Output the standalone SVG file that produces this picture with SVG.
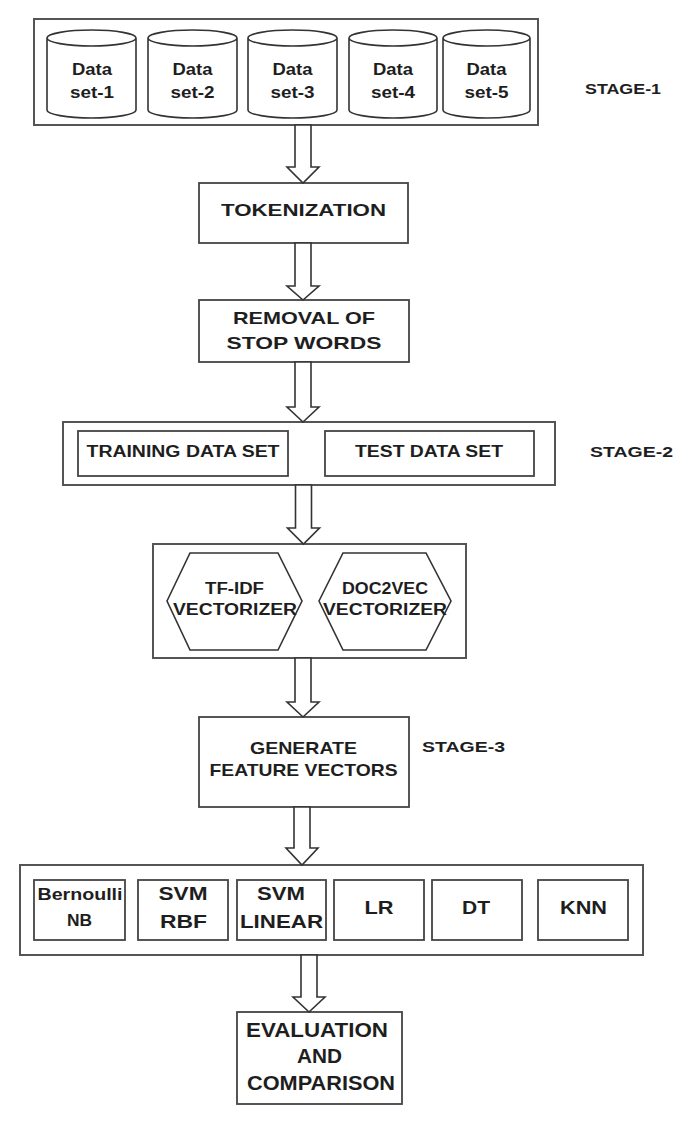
<svg xmlns="http://www.w3.org/2000/svg" width="697" height="1125" viewBox="0 0 697 1125">
<style>
.bg{fill:#ffffff}
.outer{fill:#ffffff;stroke:#555;stroke-width:2}
.box{fill:#ffffff;stroke:#444;stroke-width:1.8}
.cyl{fill:#ffffff;stroke:#333;stroke-width:1.6}
.arrow{fill:#ffffff;stroke:#333;stroke-width:1.6;stroke-linejoin:miter}
text{font-family:"Liberation Sans",Arial,sans-serif;font-weight:bold;fill:#1e1e1e;text-anchor:middle}
.t17{font-size:17px}
.t15{font-size:15px}
.t16{font-size:16px}
.t19{font-size:19px}
.t21{font-size:20px}
</style>
<rect class="bg" x="0" y="0" width="697" height="1125"/>

<g id="stage1">
  <rect class="outer" x="34" y="19" width="504" height="106"/>
  <g id="ds1">
    <path class="cyl" d="M47,38 L47,110 A44.5,8 0 0 0 136,110 L136,38 A44.5,8 0 0 0 47,38 A44.5,8 0 0 0 136,38"/>
    <text class="t17" x="92" y="75" textLength="40" lengthAdjust="spacingAndGlyphs">Data</text>
    <text class="t17" x="92" y="98" textLength="44" lengthAdjust="spacingAndGlyphs">set-1</text>
  </g>
  <g id="ds2">
    <path class="cyl" d="M148,38 L148,110 A44.5,8 0 0 0 237,110 L237,38 A44.5,8 0 0 0 148,38 A44.5,8 0 0 0 237,38"/>
    <text class="t17" x="192.5" y="75" textLength="40" lengthAdjust="spacingAndGlyphs">Data</text>
    <text class="t17" x="192.5" y="98" textLength="44" lengthAdjust="spacingAndGlyphs">set-2</text>
  </g>
  <g id="ds3">
    <path class="cyl" d="M248,38 L248,110 A44.5,8 0 0 0 337,110 L337,38 A44.5,8 0 0 0 248,38 A44.5,8 0 0 0 337,38"/>
    <text class="t17" x="292.5" y="75" textLength="40" lengthAdjust="spacingAndGlyphs">Data</text>
    <text class="t17" x="292.5" y="98" textLength="44" lengthAdjust="spacingAndGlyphs">set-3</text>
  </g>
  <g id="ds4">
    <path class="cyl" d="M349,38 L349,110 A44,8 0 0 0 437,110 L437,38 A44,8 0 0 0 349,38 A44,8 0 0 0 437,38"/>
    <text class="t17" x="393" y="75" textLength="40" lengthAdjust="spacingAndGlyphs">Data</text>
    <text class="t17" x="393" y="98" textLength="44" lengthAdjust="spacingAndGlyphs">set-4</text>
  </g>
  <g id="ds5">
    <path class="cyl" d="M443,38 L443,110 A43.5,8 0 0 0 530,110 L530,38 A43.5,8 0 0 0 443,38 A43.5,8 0 0 0 530,38"/>
    <text class="t17" x="486.5" y="75" textLength="40" lengthAdjust="spacingAndGlyphs">Data</text>
    <text class="t17" x="486.5" y="98" textLength="44" lengthAdjust="spacingAndGlyphs">set-5</text>
  </g>
  <text id="stage1-label" class="t15" x="623" y="94" textLength="76" lengthAdjust="spacingAndGlyphs">STAGE-1</text>
</g>

<g id="tokenization">
  <rect class="box" x="199" y="183" width="209" height="60"/>
  <text class="t17" x="303.5" y="216" textLength="165" lengthAdjust="spacingAndGlyphs">TOKENIZATION</text>
</g>

<g id="removal">
  <rect class="box" x="199" y="300" width="210" height="62"/>
  <text class="t17" x="304" y="324" textLength="142" lengthAdjust="spacingAndGlyphs">REMOVAL OF</text>
  <text class="t17" x="304" y="349" textLength="155" lengthAdjust="spacingAndGlyphs">STOP WORDS</text>
</g>

<g id="stage2">
  <rect class="outer" x="63" y="422" width="492" height="63"/>
  <g id="training">
    <rect class="box" x="78" y="431" width="210" height="45"/>
    <text class="t16" x="183" y="457" textLength="193" lengthAdjust="spacingAndGlyphs">TRAINING DATA SET</text>
  </g>
  <g id="test">
    <rect class="box" x="325" y="431" width="209" height="45"/>
    <text class="t16" x="429" y="457" textLength="148" lengthAdjust="spacingAndGlyphs">TEST DATA SET</text>
  </g>
  <text id="stage2-label" class="t15" x="631.5" y="457" textLength="83" lengthAdjust="spacingAndGlyphs">STAGE-2</text>
</g>

<g id="vectorizers">
  <rect class="outer" x="153" y="544" width="313" height="114"/>
  <g id="tfidf">
    <polygon class="cyl" points="167,601 190,553 278,553 302,601 278,650 190,650"/>
    <text class="t16" x="234.5" y="594" textLength="59" lengthAdjust="spacingAndGlyphs">TF-IDF</text>
    <text class="t16" x="235" y="615" textLength="124" lengthAdjust="spacingAndGlyphs">VECTORIZER</text>
  </g>
  <g id="doc2vec">
    <polygon class="cyl" points="319,601 343,553 426,553 451,601 426,650 343,650"/>
    <text class="t16" x="385" y="594" textLength="86" lengthAdjust="spacingAndGlyphs">DOC2VEC</text>
    <text class="t16" x="385" y="615" textLength="124" lengthAdjust="spacingAndGlyphs">VECTORIZER</text>
  </g>
</g>

<g id="generate">
  <rect class="box" x="199" y="717" width="210" height="90"/>
  <text class="t17" x="303.5" y="754" textLength="107" lengthAdjust="spacingAndGlyphs">GENERATE</text>
  <text class="t17" x="303.5" y="776" textLength="188" lengthAdjust="spacingAndGlyphs">FEATURE VECTORS</text>
  <text id="stage3-label" class="t15" x="463.5" y="752" textLength="83" lengthAdjust="spacingAndGlyphs">STAGE-3</text>
</g>

<g id="classifiers">
  <rect class="outer" x="20" y="865" width="623" height="90"/>
  <g id="bnb">
    <rect class="box" x="34" y="880" width="91" height="60"/>
    <text class="t16" x="80" y="900" textLength="85" lengthAdjust="spacingAndGlyphs">Bernoulli</text>
    <text class="t16" x="79.5" y="926" textLength="25" lengthAdjust="spacingAndGlyphs">NB</text>
  </g>
  <g id="svmrbf">
    <rect class="box" x="138" y="880" width="90" height="60"/>
    <text class="t19" x="183" y="900" textLength="49" lengthAdjust="spacingAndGlyphs">SVM</text>
    <text class="t19" x="183.5" y="928" textLength="47" lengthAdjust="spacingAndGlyphs">RBF</text>
  </g>
  <g id="svmlinear">
    <rect class="box" x="237" y="880" width="89" height="60"/>
    <text class="t19" x="281" y="900" textLength="48" lengthAdjust="spacingAndGlyphs">SVM</text>
    <text class="t19" x="281.5" y="928" textLength="83" lengthAdjust="spacingAndGlyphs">LINEAR</text>
  </g>
  <g id="lr">
    <rect class="box" x="334" y="880" width="90" height="60"/>
    <text class="t19" x="379" y="914" textLength="29" lengthAdjust="spacingAndGlyphs">LR</text>
  </g>
  <g id="dt">
    <rect class="box" x="432" y="880" width="90" height="60"/>
    <text class="t19" x="476" y="914" textLength="28" lengthAdjust="spacingAndGlyphs">DT</text>
  </g>
  <g id="knn">
    <rect class="box" x="538" y="880" width="90" height="60"/>
    <text class="t19" x="583.5" y="914" textLength="47" lengthAdjust="spacingAndGlyphs">KNN</text>
  </g>
</g>

<g id="evaluation">
  <rect class="box" x="237" y="1012" width="165" height="92"/>
  <text class="t21" x="317" y="1037" textLength="142" lengthAdjust="spacingAndGlyphs">EVALUATION</text>
  <text class="t21" x="319.5" y="1063" textLength="45" lengthAdjust="spacingAndGlyphs">AND</text>
  <text class="t21" x="321" y="1090" textLength="148" lengthAdjust="spacingAndGlyphs">COMPARISON</text>
</g>

<g id="connectors">
  <polygon class="arrow" points="295,125 295,167 287,167 303,183 319,167 311,167 311,125"/>
  <polygon class="arrow" points="295,243 295,286 287,286 303,300 319,286 311,286 311,243"/>
  <polygon class="arrow" points="295,362 295,407 287,407 303,422 319,407 311,407 311,362"/>
  <polygon class="arrow" points="295.5,485 295.5,528 287.5,528 303.5,544 319.5,528 311.5,528 311.5,485"/>
  <polygon class="arrow" points="295,658 295,702 287,702 303,717 319,702 311,702 311,658"/>
  <polygon class="arrow" points="294,807 294,848 286,848 302,865 318,848 310,848 310,807"/>
  <polygon class="arrow" points="301,955 301,997 293,997 309,1012 325,997 317,997 317,955"/>
</g>
</svg>
